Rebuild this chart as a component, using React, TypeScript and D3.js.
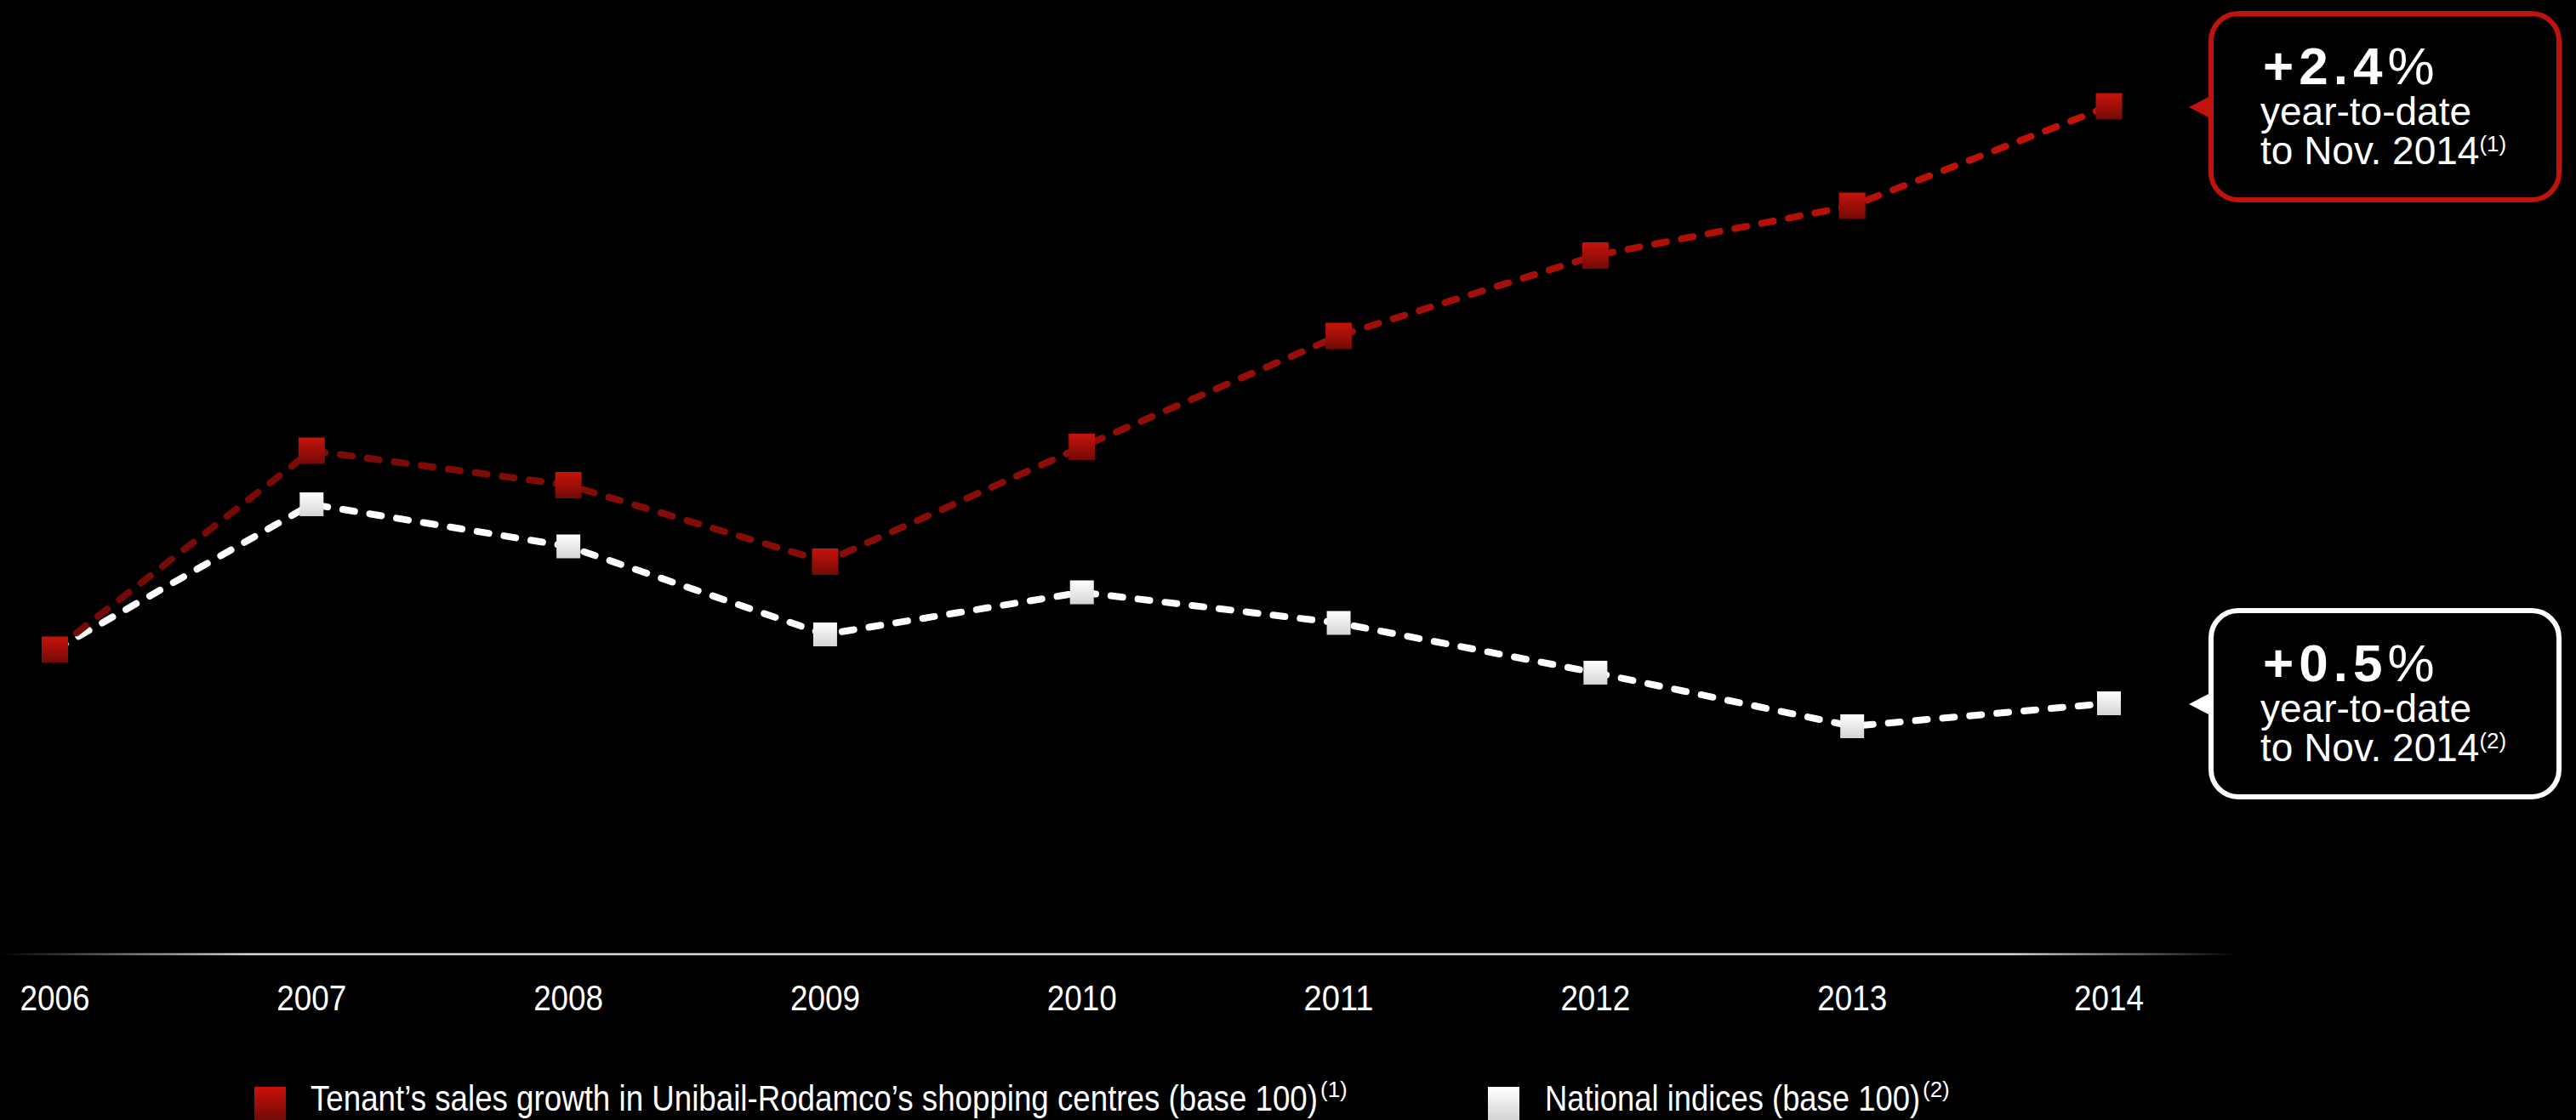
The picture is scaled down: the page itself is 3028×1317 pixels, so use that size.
import React from 'react';
import * as d3 from 'd3';

// Index values, 2006 = base 100
const years = ['2006', '2007', '2008', '2009', '2010', '2011', '2012', '2013', '2014'];
const tenantSales = [100, 105.2, 104.3, 102.3, 105.3, 108.2, 110.3, 111.6, 114.2];
const nationalIndices = [100, 103.8, 102.7, 100.4, 101.5, 100.7, 99.4, 98.0, 98.6];

// Year-to-date callouts for the last point of each series
const calloutValues = ['+2.4', '+0.5'];
const calloutNotes = ['(1)', '(2)'];
const calloutLines = ['year-to-date', 'to Nov. 2014'];

const legendLabels = [
  'Tenant\u2019s sales growth in Unibail-Rodamco\u2019s shopping centres (base 100)',
  'National indices (base 100)',
];

const W = 3028;
const H = 1317;
const NARROW = "'Liberation Sans Narrow', 'Arial Narrow', 'Liberation Sans', Arial, sans-serif";
const SANS = "'Liberation Sans', Arial, sans-serif";

export default function App() {
  const x = d3.scalePoint<string>().domain(years).range([64.5, 2479]);
  const y = d3.scaleLinear().domain([92, 117]).range([1124, -1]);
  const line = d3
    .line<number>()
    .x((_, i) => x(years[i]) as number)
    .y((d) => y(d));

  const series = [
    { key: 'national', values: nationalIndices, stroke: '#ffffff', marker: 'url(#markerWhite)', size: 28 },
    { key: 'tenant', values: tenantSales, stroke: 'url(#lineRed)', marker: 'url(#markerRed)', size: 31 },
  ];

  const callouts = [
    { value: calloutValues[0], note: calloutNotes[0], last: tenantSales[tenantSales.length - 1], color: '#c0130d' },
    { value: calloutValues[1], note: calloutNotes[1], last: nationalIndices[nationalIndices.length - 1], color: '#ffffff' },
  ];

  const legend = [
    { label: legendLabels[0], note: calloutNotes[0], fill: 'url(#markerRed)', sx: 299, tx: 365, len: 1184 },
    { label: legendLabels[1], note: calloutNotes[1], fill: 'url(#markerWhite)', sx: 1749, tx: 1816, len: 441 },
  ];

  const axisY = 1122;

  return (
    <svg
      width={W}
      height={H}
      viewBox={`0 0 ${W} ${H}`}
      style={{ position: 'absolute', left: 0, top: 0, display: 'block' }}
    >
      <defs>
        <linearGradient id="lineRed" gradientUnits="userSpaceOnUse" x1={64} y1={0} x2={2479} y2={0}>
          <stop offset="0" stopColor="#720a07" />
          <stop offset="0.5" stopColor="#8e0d08" />
          <stop offset="0.75" stopColor="#aa0f0a" />
          <stop offset="1" stopColor="#c41209" />
        </linearGradient>
        <linearGradient id="markerRed" x1="0" y1="0" x2="0" y2="1">
          <stop offset="0" stopColor="#c8130a" />
          <stop offset="1" stopColor="#720a07" />
        </linearGradient>
        <linearGradient id="markerWhite" x1="0" y1="0" x2="0" y2="1">
          <stop offset="0" stopColor="#ffffff" />
          <stop offset="1" stopColor="#d4d4d4" />
        </linearGradient>
        <linearGradient id="axisFade" gradientUnits="userSpaceOnUse" x1={0} y1={0} x2={2630} y2={0}>
          <stop offset="0" stopColor="#d8d8d8" stopOpacity="0" />
          <stop offset="0.11" stopColor="#d8d8d8" stopOpacity="1" />
          <stop offset="0.9" stopColor="#d8d8d8" stopOpacity="1" />
          <stop offset="1" stopColor="#d8d8d8" stopOpacity="0" />
        </linearGradient>
      </defs>

      <rect x={0} y={0} width={W} height={H} fill="#000000" />

      {/* baseline axis */}
      <line x1={0} x2={2630} y1={axisY} y2={axisY} stroke="url(#axisFade)" strokeWidth={2.5} />
      {years.map((yr) => (
        <text
          key={yr}
          x={x(yr)}
          y={1188}
          textAnchor="middle"
          fill="#ffffff"
          fontFamily={NARROW}
          fontSize={42}
          textLength={82}
          lengthAdjust="spacingAndGlyphs"
        >
          {yr}
        </text>
      ))}

      {/* dashed series lines */}
      {series.map((s) => (
        <path
          key={s.key}
          d={line(s.values) || ''}
          fill="none"
          stroke={s.stroke}
          strokeWidth={8}
          strokeDasharray="14 18"
          strokeLinecap="round"
          strokeLinejoin="round"
        />
      ))}

      {/* square markers */}
      {series.map((s) => (
        <g key={s.key + '-m'}>
          {s.values.map((v, i) => (
            <rect
              key={i}
              x={(x(years[i]) as number) - s.size / 2}
              y={y(v) - s.size / 2}
              width={s.size}
              height={s.size}
              fill={s.marker}
            />
          ))}
        </g>
      ))}

      {/* year-to-date callouts */}
      {callouts.map((c, i) => {
        const py = y(c.last);
        const top = py - 112;
        return (
          <g key={i}>
            <rect
              x={2599}
              y={top + 3}
              width={409}
              height={219}
              rx={32}
              ry={32}
              fill="#000000"
              stroke={c.color}
              strokeWidth={6}
            />
            <polygon points={`2573,${py + 1} 2600,${py - 13} 2600,${py + 15}`} fill={c.color} />
            <text x={2660} y={top + 86} fill="#ffffff" fontFamily={SANS} fontSize={62}>
              <tspan fontWeight="bold" letterSpacing={6}>
                {c.value}
              </tspan>
              <tspan>%</tspan>
            </text>
            <text x={2657} y={top + 134} fill="#ffffff" fontFamily={SANS} fontSize={46}>
              {calloutLines[0]}
            </text>
            <text x={2657} y={top + 180} fill="#ffffff" fontFamily={SANS} fontSize={46}>
              {calloutLines[1]}
              <tspan fontSize={26} dy={-15}>
                {c.note}
              </tspan>
            </text>
          </g>
        );
      })}

      {/* legend */}
      {legend.map((l, i) => (
        <g key={i}>
          <rect x={l.sx} y={1278} width={37} height={39} fill={l.fill} />
          <text x={l.tx} y={1306} fill="#ffffff" fontFamily={NARROW} fontSize={42}>
            <tspan textLength={l.len} lengthAdjust="spacingAndGlyphs">
              {l.label}
            </tspan>
            <tspan fontSize={26} dx={3} dy={-16}>
              {l.note}
            </tspan>
          </text>
        </g>
      ))}
    </svg>
  );
}
